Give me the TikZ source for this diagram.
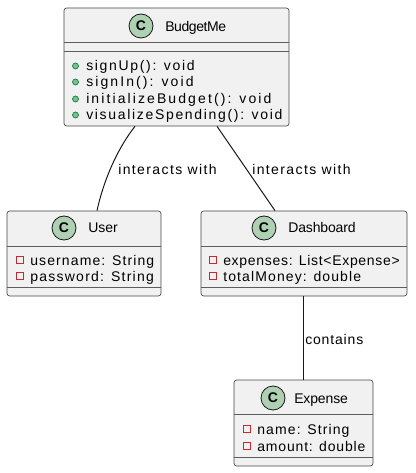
\documentclass[tikz,border=0pt]{standalone}
\usepackage{fontspec}
\setmainfont{Liberation Sans}
\usetikzlibrary{calc}
\definecolor{boxfill}{HTML}{F1F1F1}
\definecolor{boxline}{HTML}{181818}
\definecolor{spotgreen}{HTML}{ADD1B2}
\definecolor{pubfill}{HTML}{84BE84}
\definecolor{publine}{HTML}{038048}
\definecolor{privline}{HTML}{C82930}

\begin{document}
\begin{tikzpicture}[x=0.75pt, y=-0.75pt]
	\tikzset{classbox/.style = {shape=rectangle, rounded corners=2pt, draw=boxline!80, fill=boxfill, line width=0.5pt, inner sep=0}}
	\tikzset{sepline/.style = {draw=boxline!70, line width=0.5pt}}
	\tikzset{spot/.style = {shape=circle, draw=boxline, fill=spotgreen, line width=0.6pt, minimum size=18pt, inner sep=0, font=\fontsize{10.5pt}{12pt}\selectfont\bfseries}}
	\tikzset{title/.style = {anchor=west, inner sep=0, text height=7.5pt, text depth=0pt, font=\fontsize{10.5pt}{12pt}\selectfont\addfontfeatures{LetterSpace=#1}}, title/.default=-1}
	\tikzset{member/.style = {anchor=west, inner sep=0, text height=7.5pt, text depth=0pt, font=\fontsize{10.5pt}{12pt}\selectfont\addfontfeatures{LetterSpace=#1}}}
	\tikzset{pub/.style = {shape=circle, draw=publine, fill=pubfill, line width=0.5pt, minimum size=4.5pt, inner sep=0}}
	\tikzset{priv/.style = {shape=rectangle, draw=privline, line width=0.7pt, minimum size=4.8pt, inner sep=0}}
	\tikzset{link/.style = {draw=boxline, line width=0.75pt}}
	\useasboundingbox (0,0) rectangle (415,473);
	% BudgetMe
	\node[classbox, minimum width=168.75pt, minimum height=88.5pt] (budget) at (176.5,67) {};
	\draw[sepline] (budget.west |- 0,42) -- (budget.east |- 0,42);
	\draw[sepline] (budget.west |- 0,51) -- (budget.east |- 0,51);
	\node[spot] (budgetc) at (141,26) {C};
	\node[title=-3] (budgett) at (165,27) {BudgetMe};
	\node[pub] (bm1) at (75.5,66) {};
	\node[member=12] (bt1) at (86,66) {signUp(): void};
	\node[pub] (bm2) at (75.5,82) {};
	\node[member=15] (bt2) at (86,82) {signIn(): void};
	\node[pub] (bm3) at (75.5,99) {};
	\node[member=15] (bt3) at (86,99) {initializeBudget(): void};
	\node[pub] (bm4) at (75.5,115) {};
	\node[member=12] (bt4) at (86,115) {visualizeSpending(): void};
	% User
	\node[classbox, minimum width=115.5pt, minimum height=63.75pt] (user) at (84,253.5) {};
	\draw[sepline] (user.west |- 0,246) -- (user.east |- 0,246);
	\draw[sepline] (user.west |- 0,287) -- (user.east |- 0,287);
	\node[spot] (userc) at (64,228) {C};
	\node[title=0] (usert) at (88,228) {User};
	\node[priv] (um1) at (20,260) {};
	\node[member=8] (ut1) at (30,260) {username: String};
	\node[priv] (um2) at (20,276) {};
	\node[member=9] (ut2) at (30,276) {password: String};
	% Dashboard
	\node[classbox, minimum width=154.5pt, minimum height=63.75pt] (dash) at (304,253.5) {};
	\draw[sepline] (dash.west |- 0,246) -- (dash.east |- 0,246);
	\draw[sepline] (dash.west |- 0,287) -- (dash.east |- 0,287);
	\node[spot] (dashc) at (264,228) {C};
	\node[title] (dasht) at (288,228) {Dashboard};
	\node[priv] (dm1) at (213,260) {};
	\node[member=5] (dt1) at (223,260) {expenses: List<Expense>};
	\node[priv] (dm2) at (213,276) {};
	\node[member=8] (dt2) at (223,276) {totalMoney: double};
	% Expense
	\node[classbox, minimum width=104.25pt, minimum height=64.5pt] (expense) at (303.5,423) {};
	\draw[sepline] (expense.west |- 0,414) -- (expense.east |- 0,414);
	\draw[sepline] (expense.west |- 0,457) -- (expense.east |- 0,457);
	\node[spot] (expensec) at (273,398) {C};
	\node[title] (expenset) at (294,398) {Expense};
	\node[priv] (em1) at (247,429) {};
	\node[member=8] (et1) at (257,429) {name: String};
	\node[priv] (em2) at (247,446) {};
	\node[member=6] (et2) at (257,446) {amount: double};
	% links
	\draw[link] ($(budget.south)+(-41.5,0)$) .. controls ($(budget.south)+(-56.5,19)$) and ($(user.north)+(21,-36)$) .. ($(user.north)+(13,0)$);
	\draw[link] ($(budget.south)+(40.5,0)$) -- ($(dash.north)+(-29,0)$);
	\draw[link] (expense.north |- dash.south) -- (expense.north);
	\node[member=10] (l1) at (118,170) {interacts with};
	\node[member=10] (l2) at (252,170) {interacts with};
	\node[member=6] (l3) at (305,339) {contains};
\end{tikzpicture}
\end{document}
